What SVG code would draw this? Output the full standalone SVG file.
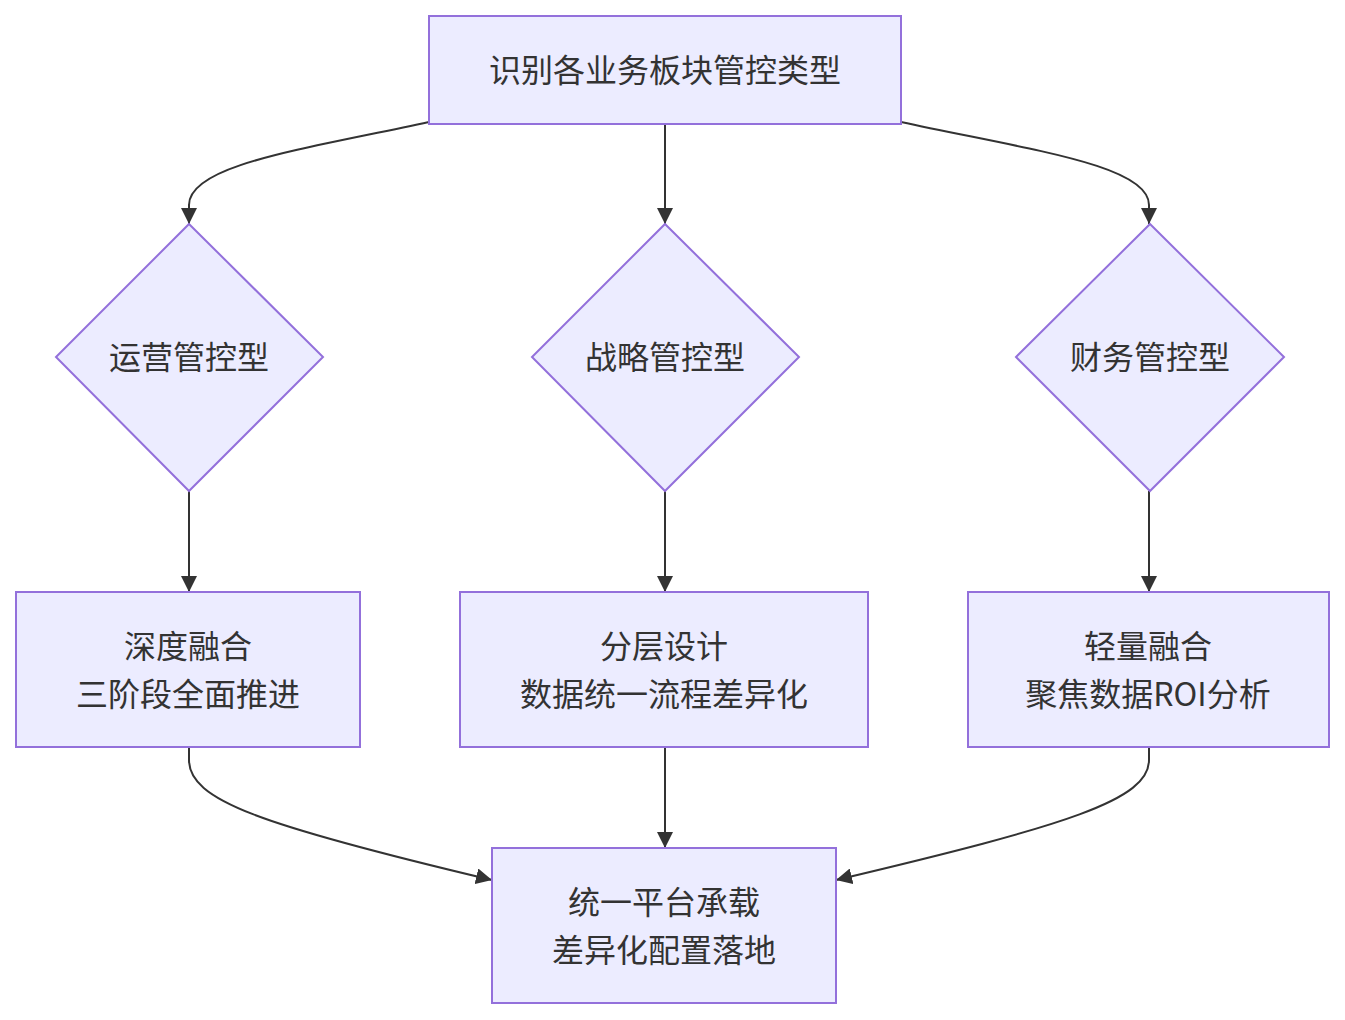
<svg xmlns="http://www.w3.org/2000/svg" width="1345" height="1020" viewBox="0 0 1345 1020">
<style>
.n{fill:#ECECFF;stroke:#9370DB;stroke-width:2}
.t{font-family:"Noto Sans CJK SC","Noto Sans",sans-serif;font-size:32px;fill:#333333;text-anchor:middle;dominant-baseline:central}
.e{fill:none;stroke:#333333;stroke-width:2}
</style>
<defs>
<marker id="ah" viewBox="0 0 10 10" refX="10" refY="5" markerUnits="userSpaceOnUse" markerWidth="16" markerHeight="16" orient="auto">
<path d="M0,0 L10,5 L0,10 z" fill="#333333"/>
</marker>
</defs>
<rect width="1345" height="1020" fill="#ffffff"/>
<g id="edges">
<path class="e" d="M429,122 C300,150 189,165 189,205 L189,224" marker-end="url(#ah)"/>
<path class="e" d="M665,124 L665,224" marker-end="url(#ah)"/>
<path class="e" d="M901,122 C1030,150 1149,165 1149,205 L1149,224" marker-end="url(#ah)"/>
<path class="e" d="M189,491 L189,592" marker-end="url(#ah)"/>
<path class="e" d="M665,491 L665,592" marker-end="url(#ah)"/>
<path class="e" d="M1149,491 L1149,592" marker-end="url(#ah)"/>
<path class="e" d="M189,747 L189,760 C189,800 260,825 492,880" marker-end="url(#ah)"/>
<path class="e" d="M665,747 L665,848" marker-end="url(#ah)"/>
<path class="e" d="M1149,747 L1149,760 C1149,800 1068,825 836,880" marker-end="url(#ah)"/>
</g>
<g id="A"><rect class="n" x="429" y="16" width="472" height="108"/><text class="t" x="665" y="68">识别各业务板块管控类型</text></g>
<g id="B"><polygon class="n" points="189,224 323,357 189,491 56,357"/><text class="t" x="189" y="355">运营管控型</text></g>
<g id="C"><polygon class="n" points="665,224 799,357 665,491 532,357"/><text class="t" x="665" y="355">战略管控型</text></g>
<g id="D"><polygon class="n" points="1150,224 1284,357 1150,491 1016,357"/><text class="t" x="1150" y="355">财务管控型</text></g>
<g id="E"><rect class="n" x="16" y="592" width="344" height="155"/><text class="t" x="188" y="644">深度融合</text><text class="t" x="188" y="692">三阶段全面推进</text></g>
<g id="F"><rect class="n" x="460" y="592" width="408" height="155"/><text class="t" x="664" y="644">分层设计</text><text class="t" x="664" y="692">数据统一流程差异化</text></g>
<g id="G"><rect class="n" x="968" y="592" width="361" height="155"/><text class="t" x="1148" y="644">轻量融合</text><text class="t" x="1148" y="692">聚焦数据ROI分析</text></g>
<g id="H"><rect class="n" x="492" y="848" width="344" height="155"/><text class="t" x="664" y="900">统一平台承载</text><text class="t" x="664" y="948">差异化配置落地</text></g>
</svg>
